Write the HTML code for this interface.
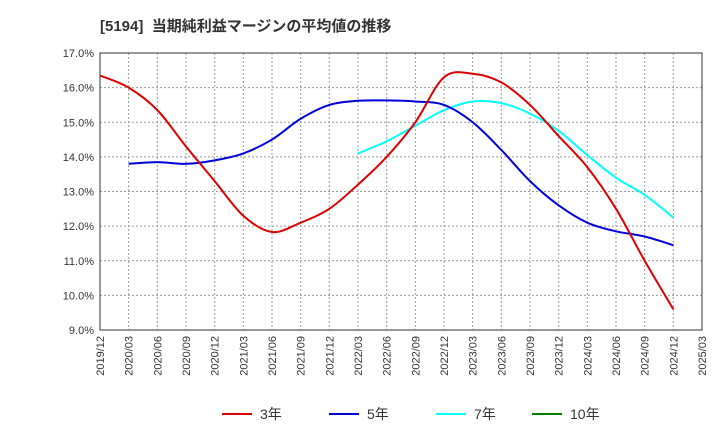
<!DOCTYPE html>
<html><head><meta charset="utf-8"><style>
body{margin:0;background:#fff;font-family:"Liberation Sans","Noto Sans CJK JP",sans-serif}
</style></head><body>
<svg id="c" width="720" height="440" xmlns="http://www.w3.org/2000/svg">
<text x="100" y="31" font-size="15" font-weight="bold" fill="#333" font-family="Liberation Sans, Noto Sans CJK JP, sans-serif">[5194]&#160; 当期純利益マージンの平均値の推移</text>
</svg>
<script>
const xLabels=["2019/12","2020/03","2020/06","2020/09","2020/12","2021/03","2021/06","2021/09","2021/12","2022/03","2022/06","2022/09","2022/12","2023/03","2023/06","2023/09","2023/12","2024/03","2024/06","2024/09","2024/12","2025/03"];
const yTicks=[9,10,11,12,13,14,15,16,17];
const s3=[16.35,16.0,15.35,14.3,13.3,12.3,11.83,12.1,12.5,13.2,14.0,15.0,16.3,16.4,16.15,15.5,14.6,13.7,12.5,11.0,9.6];
const s5=[null,13.8,13.85,13.8,13.9,14.1,14.5,15.1,15.5,15.62,15.63,15.6,15.5,15.0,14.2,13.3,12.6,12.1,11.85,11.7,11.45];
const s7=[null,null,null,null,null,null,null,null,null,14.1,14.45,14.9,15.35,15.6,15.55,15.25,14.75,14.05,13.4,12.9,12.25];
const s10=[];
const NS="http://www.w3.org/2000/svg",svg=document.getElementById('c');
const L=100,R=702,T=53,B=330;
const xs=i=>L+(R-L)*i/(xLabels.length-1);
const ys=v=>B-(B-T)*(v-9)/8;
function mk(t,a,p){const e=document.createElementNS(NS,t);for(const k in a)e.setAttribute(k,a[k]);(p||svg).appendChild(e);return e;}
const grid=mk('g',{});


yTicks.forEach(v=>{
  mk('line',{x1:L,x2:R,y1:ys(v),y2:ys(v),stroke:'#999','stroke-dasharray':'2,2','stroke-width':1},grid);
  const t=mk('text',{x:L-6,y:ys(v)+4,'text-anchor':'end','font-size':11,fill:'#333'});
  t.textContent=v.toFixed(1)+'%';
  
  
});
xLabels.forEach((l,i)=>{
  mk('line',{x1:xs(i),x2:xs(i),y1:T,y2:B,stroke:'#999','stroke-dasharray':'2,2','stroke-width':1},grid);
  const t=mk('text',{x:0,y:0,'text-anchor':'end','font-size':11,fill:'#333',transform:`translate(${xs(i)+4},${B+6}) rotate(-90)`});
  t.textContent=l;
  
  
});
mk('rect',{x:L,y:T,width:R-L,height:B-T,fill:'none',stroke:'#333','stroke-width':1});
function path(arr){
  const p=[];arr.forEach((v,i)=>{if(v!=null)p.push([xs(i),ys(v)]);});
  if(!p.length)return '';
  let d=`M${p[0][0]},${p[0][1]}`;
  for(let i=0;i<p.length-1;i++){
    const p0=p[i-1]||p[i],p1=p[i],p2=p[i+1],p3=p[i+2]||p2;
    d+=` C${p1[0]+(p2[0]-p0[0])/6},${p1[1]+(p2[1]-p0[1])/6} ${p2[0]-(p3[0]-p1[0])/6},${p2[1]-(p3[1]-p1[1])/6} ${p2[0]},${p2[1]}`;
  }
  return d;
}
[[s7,'#00ffff','line-7y'],[s5,'#0000dd','line-5y'],[s3,'#dd0000','line-3y'],[s10,'#008000','line-10y']].forEach(([a,c,n])=>{
  const e=mk('path',{d:path(a),fill:'none',stroke:c,'stroke-width':2});
  
  
});
[['3年','#dd0000',222],['5年','#0000dd',329],['7年','#00ffff',436],['10年','#008000',532]].forEach(([l,c,x])=>{
  const g=mk('g',{});
  
  
  mk('line',{x1:x,x2:x+30,y1:414,y2:414,stroke:c,'stroke-width':2},g);
  const t=mk('text',{x:x+38,y:419,'font-size':14,fill:'#333'},g);t.textContent=l;
});
</script>
</body></html>
